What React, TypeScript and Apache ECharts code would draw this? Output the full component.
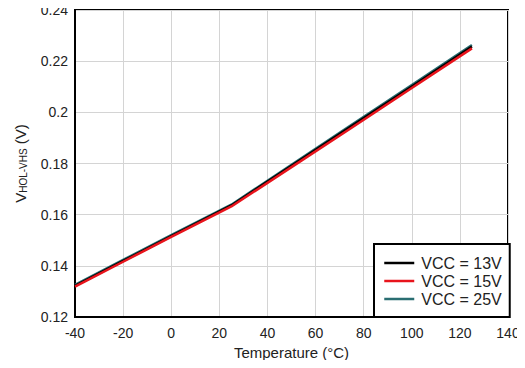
import React, { useEffect, useRef } from "react";
import * as echarts from "echarts";

const temps = [-40, -20, 0, 25, 50, 75, 100, 125];
const vcc13 = [0.1322, 0.1419, 0.1516, 0.1636, 0.1791, 0.1946, 0.2101, 0.2257];
const vcc15 = [0.1319, 0.1416, 0.1513, 0.1632, 0.1786, 0.1940, 0.2095, 0.2250];
const vcc25 = [0.1326, 0.1423, 0.1520, 0.1639, 0.1795, 0.1951, 0.2107, 0.2263];
const seriesNames = ["VCC = 13V", "VCC = 15V", "VCC = 25V"];
const seriesColors = ["#000000", "#e8141c", "#2a6e72"];

export default function App() {
  const ref = useRef<HTMLDivElement>(null);
  useEffect(() => {
    const chart = echarts.init(ref.current!, null, { renderer: "svg" });
    const mk = (name: string, color: string, vals: number[], z: number) => ({
      name,
      type: "line",
      data: temps.map((t, i) => [t, vals[i]]),
      symbol: "none",
      z,
      lineStyle: { color, width: 2.5 },
      itemStyle: { color },
    });
    chart.setOption({
      animation: false,
      backgroundColor: "#ffffff",
      textStyle: { fontFamily: "Liberation Sans, Arial, sans-serif" },
      grid: {
        left: 75,
        right: 17,
        top: 10,
        bottom: 51,
        show: true,
        borderColor: "#000",
        borderWidth: 2,
        backgroundColor: "transparent",
      },
      legend: {
        orient: "vertical",
        left: 374,
        top: 244,
        data: seriesNames,
        backgroundColor: "#fff",
        borderColor: "#000",
        borderWidth: 2,
        borderRadius: 0,
        padding: [10, 8, 9, 9],
        itemWidth: 30,
        itemHeight: 14,
        itemGap: 0,
        itemStyle: { opacity: 0 },
        lineStyle: { width: 2.5 },
        textStyle: { fontSize: 16, lineHeight: 18, color: "#222", padding: [0, 0, 0, 2] },
      },
      xAxis: {
        type: "value",
        min: -40,
        max: 140,
        interval: 20,
        name: "Temperature (°C)",
        nameLocation: "middle",
        nameGap: 27,
        nameTextStyle: { fontSize: 15, color: "#222" },
        axisLine: { show: true, onZero: false, lineStyle: { color: "#000", width: 2 } },
        axisTick: { show: false },
        axisLabel: { fontSize: 14, color: "#222", margin: 9 },
        splitLine: { show: true, lineStyle: { color: "#d4d4d4", width: 1 } },
      },
      yAxis: {
        type: "value",
        min: 0.12,
        max: 0.24,
        interval: 0.02,
        name: "{a|V}{b|HOL-VHS}{a| (V)}",
        nameLocation: "middle",
        nameGap: 47,
        nameRotate: 90,
        nameTextStyle: {
          rich: {
            a: { fontSize: 15, color: "#222" },
            b: { fontSize: 10, color: "#222", verticalAlign: "bottom", padding: [6, 0, 0, 0] },
          },
        },
        axisLine: { show: true, onZero: false, lineStyle: { color: "#000", width: 2 } },
        axisTick: { show: false },
        axisLabel: {
          fontSize: 14,
          color: "#222",
          margin: 7,
          formatter: (v: number) => String(Number(v.toFixed(2))),
        },
        splitLine: { show: true, lineStyle: { color: "#d4d4d4", width: 1 } },
      },
      series: [
        mk(seriesNames[2], seriesColors[2], vcc25, 2),
        mk(seriesNames[0], seriesColors[0], vcc13, 3),
        mk(seriesNames[1], seriesColors[1], vcc15, 4),
      ],
    });
    return () => chart.dispose();
  }, []);
  return <div ref={ref} style={{ width: 525, height: 368, margin: -8 }} />;
}
